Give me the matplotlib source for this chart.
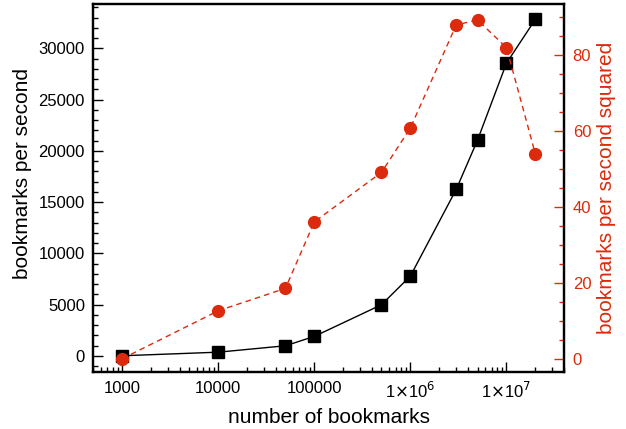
import numpy as np
import matplotlib
matplotlib.use("Agg")
import matplotlib.pyplot as plt
from matplotlib.ticker import FixedLocator, FixedFormatter, MultipleLocator, LogLocator, NullFormatter

plt.rcParams['font.family'] = ['Liberation Sans', 'DejaVu Sans']

n_bookmarks = [1000, 10000, 50000, 100000, 500000, 1e6, 3e6, 5e6, 1e7, 2e7]
per_second = [0, 350, 975, 1890, 4980, 7780, 16240, 21050, 28550, 32830]
per_second_sq = [0, 12.6, 18.5, 36.0, 49.0, 60.7, 87.8, 89.1, 81.8, 53.8]

x_ticks = [1000, 10000, 100000, 1e6, 1e7]
x_labels = ["1000", "10000", "100000", r"1$\times$10$^6$", r"1$\times$10$^7$"]

red = "#dc2a0c"

fig = plt.figure(figsize=(6.26, 4.29), dpi=100)
ax = fig.add_axes([0.149, 0.132, 0.7525, 0.8587])
ax2 = ax.twinx()

ax.plot(n_bookmarks, per_second, "s-", color="black", linewidth=1.0,
        markersize=8, zorder=3)
ax2.plot(n_bookmarks, per_second_sq, "o--", color=red, linewidth=1.0,
         markersize=8.5, dashes=(4, 3))

ax.set_xscale("log")
ax.set_xlim(500, 4e7)
ax.set_ylim(-1620, 34320)
ax2.set_ylim(-3.6, 93.3)

ax.xaxis.set_major_locator(FixedLocator(x_ticks))
ax.xaxis.set_major_formatter(FixedFormatter(x_labels))
ax.xaxis.set_minor_locator(LogLocator(base=10, subs=np.arange(2, 10)))
ax.xaxis.set_minor_formatter(NullFormatter())
ax.yaxis.set_major_locator(MultipleLocator(5000))
ax.yaxis.set_minor_locator(MultipleLocator(1000))
ax2.yaxis.set_major_locator(MultipleLocator(20))
ax2.yaxis.set_minor_locator(MultipleLocator(5))

ax.tick_params(axis="both", which="major", direction="in", length=7,
               width=1, labelsize=12, pad=6)
ax.tick_params(axis="both", which="minor", direction="in", length=3.5, width=1)
ax.tick_params(axis="x", which="both", top=False)
ax.tick_params(axis="y", which="both", right=False)
ax2.tick_params(axis="y", which="major", direction="in", length=7, width=1,
                colors=red, labelsize=12, pad=6)
ax2.tick_params(axis="y", which="minor", direction="in", length=3.5, width=1,
                colors=red)

for a in (ax, ax2):
    for s in a.spines.values():
        s.set_linewidth(1.6)

ax.set_xlabel("number of bookmarks", fontsize=15, labelpad=5)
ax.set_ylabel("bookmarks per second", fontsize=15)
ax.yaxis.set_label_coords(-0.13, 0.54)
ax2.set_ylabel("bookmarks per second squared", fontsize=15, color=red)

fig.savefig("out.png", dpi=100)
